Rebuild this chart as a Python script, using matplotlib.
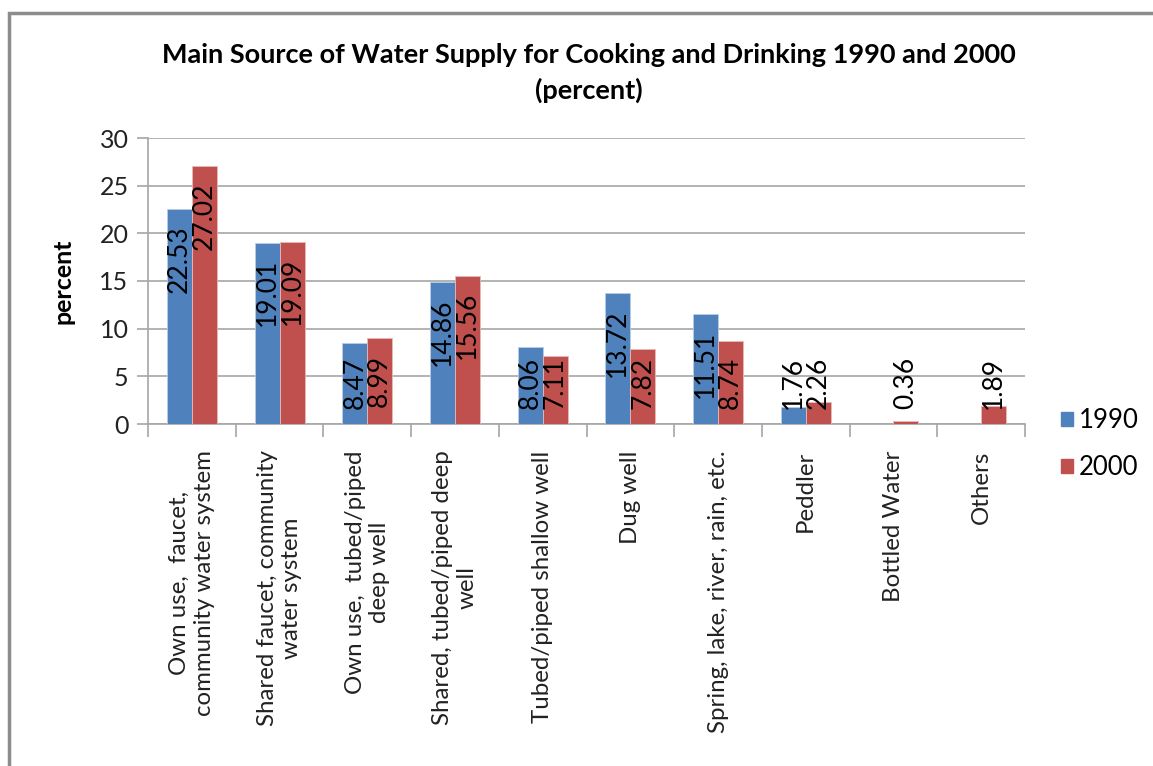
import matplotlib
matplotlib.use("Agg")
import matplotlib.pyplot as plt
from matplotlib.patches import Rectangle
import numpy as np

categories = [
    "Own use,  faucet,\ncommunity water system",
    "Shared faucet, community\nwater system",
    "Own use,  tubed/piped\ndeep well",
    "Shared, tubed/piped deep\nwell",
    "Tubed/piped shallow well",
    "Dug well",
    "Spring, lake, river, rain, etc.",
    "Peddler",
    "Bottled Water",
    "Others",
]
values_1990 = [22.53, 19.01, 8.47, 14.86, 8.06, 13.72, 11.51, 1.76, None, None]
values_2000 = [27.02, 19.09, 8.99, 15.56, 7.11, 7.82, 8.74, 2.26, 0.36, 1.89]
series_names = ["1990", "2000"]
yticks = [0, 5, 10, 15, 20, 25, 30]

FONT = "Lato"
plt.rcParams['font.family'] = [FONT, 'DejaVu Sans']

W, H = 1153, 766
fig = plt.figure(figsize=(W / 100, H / 100), dpi=100)
ax = fig.add_axes([148 / W, 1 - 424 / H, (1025 - 148) / W, (424 - 138) / H])

c1990 = "#4F81BD"
c2000 = "#C0504D"
bw = 0.285
x = np.arange(len(categories))
LBL = 19

for xi, v in zip(x, values_1990):
    if v is None:
        continue
    ax.bar(xi - bw / 2, v, width=bw, color=c1990, edgecolor="#B9CDE5", linewidth=0.6, zorder=3)
for xi, v in zip(x, values_2000):
    if v is None:
        continue
    ax.bar(xi + bw / 2, v, width=bw, color=c2000, edgecolor="#E6B9B8", linewidth=0.6, zorder=3)

ax.set_xlim(-0.5, len(categories) - 0.5)
ax.set_ylim(0, 30)

renderer = fig.canvas.get_renderer()

def label(xpos, v):
    t = ax.text(xpos, 1.55, f"{v:.2f}", rotation=90, ha="center", va="bottom",
                fontsize=LBL, color="black", zorder=4)
    bb = t.get_window_extent(renderer)
    top = ax.transData.inverted().transform((0, bb.y1))[1]
    if v - 1.7 > top:
        t.set_y(v - 1.7)
        t.set_va("top")

for xi, v in zip(x, values_1990):
    if v is not None:
        label(xi - bw / 2, v)
for xi, v in zip(x, values_2000):
    if v is not None:
        label(xi + bw / 2, v)

ax.set_yticks(yticks)
ax.set_yticklabels([str(t) for t in yticks], fontsize=18, color="#222222")
ax.yaxis.grid(True, color="#A6A6A6", linewidth=1.2, zorder=0)
ax.set_axisbelow(True)

ax.set_xticks(x)
ax.set_xticklabels(categories, rotation=90, ha="center", va="top",
                   multialignment="center", fontsize=17.3, color="#222222")
ax.tick_params(axis="x", which="major", length=0, pad=19)
ax.set_xticks(np.arange(-0.5, len(categories) + 0.5, 1), minor=True)
ax.tick_params(axis="x", which="minor", length=9, width=1.2, color="#A6A6A6", direction="out")
ax.tick_params(axis="y", which="major", length=8, width=1.2, color="#A6A6A6", pad=6)

for s in ["top", "right"]:
    ax.spines[s].set_visible(False)
ax.spines["left"].set_color("#A6A6A6")
ax.spines["left"].set_linewidth(1.2)
ax.spines["bottom"].set_color("#A6A6A6")
ax.spines["bottom"].set_linewidth(1.2)

ax.set_ylabel("percent", fontsize=18, fontweight="bold", labelpad=18)

fig.text(589 / W, 1 - 55 / H, "Main Source of Water Supply for Cooking and Drinking 1990 and 2000",
         ha="center", va="center", fontsize=19.5, fontweight="bold")
fig.text(589 / W, 1 - 90 / H, "(percent)", ha="center", va="center", fontsize=19.5, fontweight="bold")

handles = [Rectangle((0, 0), 1, 1, color=c1990), Rectangle((0, 0), 1, 1, color=c2000)]
fig.legend(handles, series_names, loc="center left", bbox_to_anchor=(1061 / W, 1 - 444 / H),
           frameon=False, fontsize=18.5, handlelength=0.45, handleheight=0.45,
           handletextpad=0.25, labelspacing=0.85, borderpad=0, borderaxespad=0)

fig.patches.append(Rectangle((9 / W, -0.05), 1.1, 1.05 - 13 / H,
                             transform=fig.transFigure, fill=False,
                             edgecolor="#8C8C8C", linewidth=2.5))

fig.savefig("out.png", dpi=100)
